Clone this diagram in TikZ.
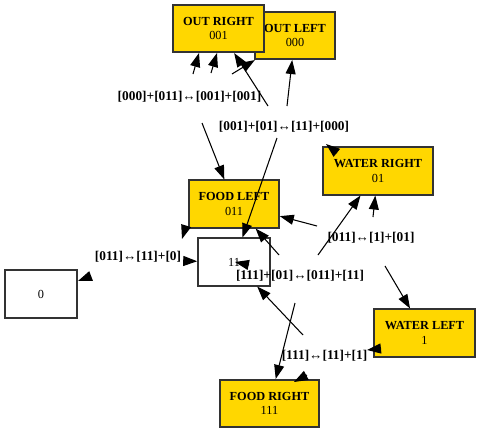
\documentclass[tikz,border=0pt]{standalone}
\usepackage{fontspec}
\setmainfont{Liberation Serif}
\usetikzlibrary{arrows.meta}

\definecolor{oro}{HTML}{FFD700}
\definecolor{bordo}{HTML}{333333}

\begin{document}
\begin{tikzpicture}[x=0.02cm,y=-0.02cm,
        specie/.style={draw=bordo,line width=0.9pt,fill=oro,minimum height=\h,inner sep=0pt,align=center,font=\fontsize{7}{8.2}\selectfont},
        vuoto/.style={specie,fill=white},
        reazione/.style={inner sep=0pt,font=\fontsize{7.6}{8}\selectfont\bfseries},
        freccia/.style={line width=0.6pt,-{Triangle[length=2.8mm,width=2mm]}}]
        % Dimensioni
        \def\h{0.95cm}    % altezza di ogni blocco
        
        % Area del disegno
        \useasboundingbox (0,0) rectangle (481,433);
        
        % Blocchi (OUT LEFT sotto OUT RIGHT)
        \node[specie,minimum width=1.6cm] (outl) at (295,35.5) {\textbf{OUT LEFT}\\000};
        \node[specie,minimum width=1.82cm] (outr) at (218.5,28.5) {\textbf{OUT RIGHT}\\001};
        \node[specie,minimum width=2.2cm] (waterr) at (378,171) {\textbf{WATER RIGHT}\\01};
        \node[specie,minimum width=1.8cm] (foodl) at (234,204) {\textbf{FOOD LEFT}\\011};
        \node[vuoto,minimum width=1.44cm] (n11) at (234,262) {11};
        \node[vuoto,minimum width=1.44cm] (n0) at (41,294) {0};
        \node[specie,minimum width=2.02cm] (waterl) at (424.5,333) {\textbf{WATER LEFT}\\1};
        \node[specie,minimum width=1.98cm] (foodr) at (269.5,403.5) {\textbf{FOOD RIGHT}\\111};
        
        % Estremi liberi delle frecce
        \coordinate (a1) at (193,74);   \coordinate (b1) at (199,53);
        \coordinate (a2) at (211,73);   \coordinate (b2) at (217,53);
        \coordinate (a3) at (268,106);
        \coordinate (a3b) at (232,74);
        \coordinate (a4) at (287,106);
        \coordinate (a5) at (202,123);
        \coordinate (a6) at (277,138);
        \coordinate (a7) at (317,226);
        \coordinate (a8) at (279,255);
        \coordinate (a9) at (318,255);
        \coordinate (a10) at (373,217);
        \coordinate (a11) at (337,153); \coordinate (b11) at (326,144);
        \coordinate (a12) at (385,266);
        \coordinate (a13) at (303,335);
        \coordinate (a14) at (295,303);
        \coordinate (a15) at (307,375); \coordinate (b15) at (294,382);
        \coordinate (a16) at (381,348.5); \coordinate (b16) at (367,350);
        \coordinate (a17) at (184,261);
        \coordinate (a18) at (91,276);  \coordinate (b18) at (78,281);
        \coordinate (a19) at (186,226); \coordinate (b19) at (182,239);
        \coordinate (a20) at (249,265); \coordinate (b20) at (235,262);
        
        % Frecce
        \draw[freccia] (a1) -- (b1);
        \draw[freccia] (a2) -- (b2);
        \draw[freccia] (a3) -- (outr);
        \draw[freccia] (a3b) -- (outl);
        \draw[freccia] (a4) -- (outl);
        \draw[freccia] (a5) -- (foodl);
        \draw[freccia] (a6) -- (n11);
        \draw[freccia] (a7) -- (foodl);
        \draw[freccia] (a8) -- (foodl);
        \draw[freccia] (a9) -- (waterr);
        \draw[freccia] (a10) -- (waterr);
        \draw[freccia] (a11) -- (b11);
        \draw[freccia] (a12) -- (waterl);
        \draw[freccia] (a13) -- (n11);
        \draw[freccia] (a14) -- (foodr);
        \draw[freccia] (a15) -- (b15);
        \draw[freccia] (a16) -- (b16);
        \draw[freccia] (a17) -- (n11);
        \draw[freccia] (a18) -- (b18);
        \draw[freccia] (a19) -- (b19);
        \draw[freccia] (a20) -- (b20);
        
        % Reazioni
        \node[reazione] (r1) at (189.5,97) {[000]+[011]↔[001]+[001]};
        \node[reazione] (r2) at (284,127) {[001]+[01]↔[11]+[000]};
        \node[reazione] (r3) at (371,238) {[011]↔[1]+[01]};
        \node[reazione] (r4) at (138,257) {[011]↔[11]+[0]};
        \node[reazione] (r5) at (300,276) {[111]+[01]↔[011]+[11]};
        \node[reazione] (r6) at (324.5,356) {[111]↔[11]+[1]};
    
    \end{tikzpicture}
\end{document}
